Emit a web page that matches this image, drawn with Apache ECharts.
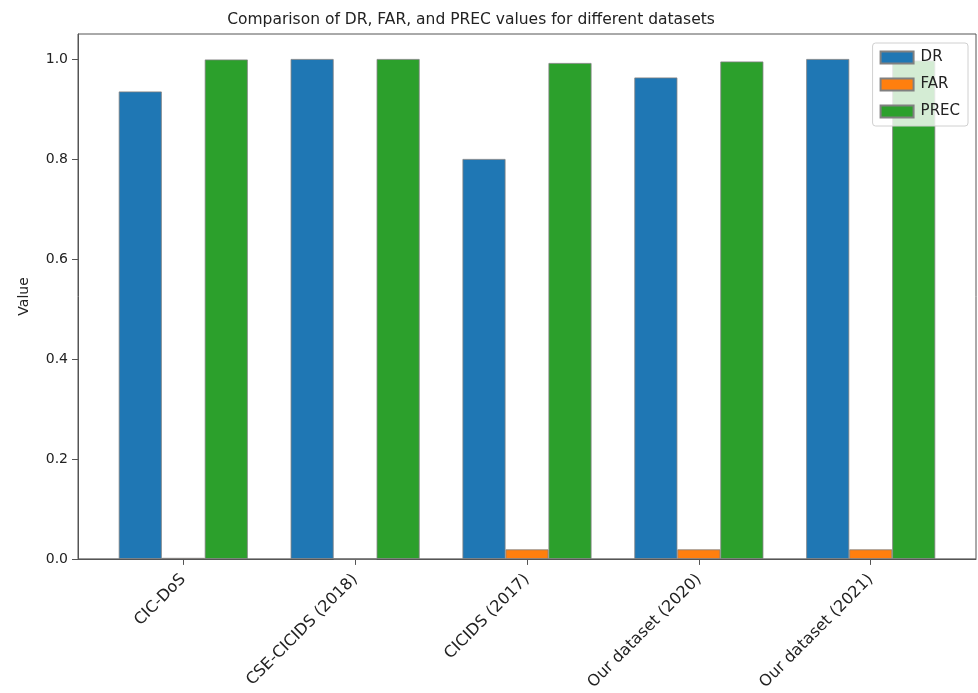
<!DOCTYPE html>
<html>
<head>
<meta charset="utf-8">
<script src="https://cdn.jsdelivr.net/npm/echarts@6/dist/echarts.min.js"></script>
<style>
  html, body { margin: 0; padding: 0; background: #fff; }
  #chart { width: 978px; height: 693px; }
</style>
</head>
<body>
<div id="chart"></div>
<script>
// Datasets compared
const categories = ['CIC-DoS', 'CSE-CICIDS (2018)', 'CICIDS (2017)', 'Our dataset (2020)', 'Our dataset (2021)'];

// Metric values per dataset
const drValues = [0.935, 1.0, 0.80, 0.963, 1.0];
const farValues = [0.002, 0.0, 0.019, 0.019, 0.019];
const precValues = [0.999, 1.0, 0.992, 0.995, 0.997];

// Y-axis tick positions
const yTicks = [0, 0.2, 0.4, 0.6, 0.8, 1.0];

const FONT = 'DejaVu Sans';
const TEXT = '#222';
const SPINE = '#555';

// Category index positions on the numeric x axis
const xTicks = categories.map((_, i) => i);
const toPairs = vals => vals.map((v, i) => [i, v]);

const barStyle = color => ({ color: color, borderColor: '#808080', borderWidth: 0.8 });

const chart = echarts.init(document.getElementById('chart'), null, { renderer: 'canvas' });

chart.setOption({
  animation: false,
  backgroundColor: '#fff',
  title: {
    text: 'Comparison of DR, FAR, and PREC values for different datasets',
    left: 466,
    textAlign: 'center',
    top: 7,
    textStyle: { fontFamily: FONT, fontSize: 15.5, fontWeight: 'normal', color: TEXT }
  },
  legend: {
    orient: 'vertical',
    right: 10,
    top: 43,
    padding: [7, 8, 7, 7],
    itemWidth: 33,
    itemHeight: 12,
    itemGap: 12,
    icon: 'rect',
    backgroundColor: 'rgba(255,255,255,0.8)',
    borderColor: '#d0d0d0',
    borderWidth: 1,
    borderRadius: 3,
    textStyle: { fontFamily: FONT, fontSize: 15, color: TEXT, padding: [0, 0, 0, 2] },
    data: ['DR', 'FAR', 'PREC']
  },
  grid: {
    left: 78, right: 2, top: 34, bottom: 134,
    show: true, borderColor: SPINE, borderWidth: 1, backgroundColor: 'transparent',
    containLabel: false
  },
  xAxis: {
    type: 'value',
    min: -0.6125,
    max: 4.6125,
    splitLine: { show: false },
    axisLine: { show: true, onZero: false, lineStyle: { color: SPINE, width: 1 } },
    axisTick: { show: true, length: 6, customValues: xTicks, lineStyle: { color: SPINE } },
    axisLabel: {
      customValues: xTicks,
      rotate: 45,
      margin: 18,
      fontFamily: FONT,
      fontSize: 16,
      color: TEXT,
      formatter: v => categories[Math.round(v)]
    }
  },
  yAxis: {
    type: 'value',
    min: 0,
    max: 1.05,
    name: 'Value',
    nameLocation: 'middle',
    nameRotate: 90,
    nameGap: 47,
    nameTextStyle: { fontFamily: FONT, fontSize: 14, color: TEXT },
    splitLine: { show: false },
    axisLine: { show: true, onZero: false, lineStyle: { color: SPINE, width: 1 } },
    axisTick: { show: true, length: 6, customValues: yTicks, lineStyle: { color: SPINE } },
    axisLabel: {
      customValues: yTicks,
      margin: 10,
      fontFamily: FONT,
      fontSize: 14,
      color: TEXT,
      formatter: v => v.toFixed(1)
    }
  },
  series: [
    { name: 'DR', type: 'bar', data: toPairs(drValues), barWidth: 43, barGap: '0%', itemStyle: barStyle('#1f77b4') },
    { name: 'FAR', type: 'bar', data: toPairs(farValues), barWidth: 43, barGap: '0%', itemStyle: barStyle('#ff7f0e') },
    { name: 'PREC', type: 'bar', data: toPairs(precValues), barWidth: 43, barGap: '0%', itemStyle: barStyle('#2ca02c') }
  ]
});
</script>
</body>
</html>
